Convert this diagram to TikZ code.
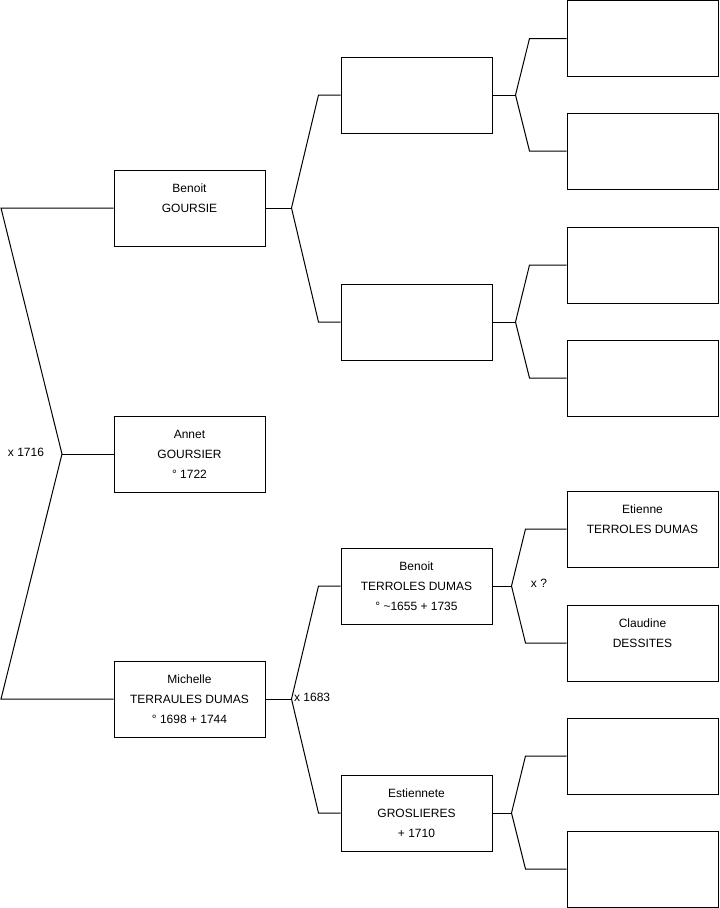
\documentclass[tikz,border=0pt]{standalone}
\usepackage{fontspec}
\setmainfont{Liberation Sans}
\usetikzlibrary{positioning, calc}

\begin{document}
\begin{tikzpicture}[x=0.75pt, y=-0.75pt,
  % --- Style definitions ---
  person/.style={draw, line width=0.75pt, minimum width=113.25pt, minimum height=57pt,
                 inner sep=0pt, align=center, font=\fontsize{9}{15}\selectfont},
  link/.style={line width=0.75pt, line join=miter},
  marr/.style={font=\fontsize{9}{11}\selectfont, inner sep=1pt},
]
\useasboundingbox (0,0) rectangle (719,908);

% ===== Nodes =====

% --- Generation 1 ---
\node[person] (p2) at (189.5,208) {Benoit\\GOURSIE\\~};
\node[person] (p1) at (189.5,454) {Annet\\GOURSIER\\° 1722};
\node[person] (p3) at (189.5,699) {Michelle\\TERRAULES DUMAS\\° 1698 + 1744};

% --- Generation 2 ---
\node[person] (p4) at (416.5,95) {};
\node[person] (p5) at (416.5,322) {};
\node[person] (p6) at (416.5,586) {Benoit\\TERROLES DUMAS\\° \textasciitilde1655 + 1735};
\node[person] (p7) at (416.5,813) {Estiennete\\GROSLIERES\\+ 1710};

% --- Generation 3 ---
\node[person] (p8) at (642.5,38.5) {};
\node[person] (p9) at (642.5,151) {};
\node[person] (p10) at (642.5,265) {};
\node[person] (p11) at (642.5,378) {};
\node[person] (p12) at (642.5,529) {Etienne\\TERROLES DUMAS\\~};
\node[person] (p13) at (642.5,643) {Claudine\\DESSITES\\~};
\node[person] (p14) at (642.5,756) {};
\node[person] (p15) at (642.5,869) {};

% ===== Bracket corners =====
\coordinate (j1) at (62,454);
\coordinate (j1a) at (1,208);
\coordinate (j1b) at (1,699);
\coordinate (j2) at ($(p2.east)+(26,0)$);
\coordinate (j3) at ($(p3.east)+(26,0)$);
\coordinate (j4) at ($(p4.east)+(23,0)$);
\coordinate (j5) at ($(p5.east)+(23,0)$);
\coordinate (j6) at ($(p6.east)+(19,0)$);
\coordinate (j7) at ($(p7.east)+(19,0)$);

% ===== Connectors =====

% Parents of Annet
\draw[link] (p1.west) -- (j1);
\draw[link] (p2.west) -- (j1a) -- (j1) -- (j1b) -- (p3.west);

% Generation 1 to generation 2
\foreach \c/\a/\b in {2/4/5, 3/6/7} {
  \draw[link] (p\c.east) -- (j\c);
  \draw[link] (p\a.west) -- ++(-22,0) -- (j\c) -- ($(p\b.west)+(-22,0)$) -- (p\b.west);
}

% Generation 2 to generation 3
\foreach \c/\a/\b in {4/8/9, 5/10/11, 6/12/13, 7/14/15} {
  \draw[link] (p\c.east) -- (j\c);
  \draw[link] (p\a.west) -- ($(p\a.west -| j\c)+(14,0)$) -- (j\c)
              -- ($(p\b.west -| j\c)+(14,0)$) -- (p\b.west);
}

% ===== Marriage labels =====
\node[marr] (x1) at (26,452) {x 1716};
\node[marr, anchor=west] (x3) at ($(j3)+(1,-2)$) {x 1683};
\node[marr] (x6) at (539,583) {x ?};

\end{tikzpicture}
\end{document}
